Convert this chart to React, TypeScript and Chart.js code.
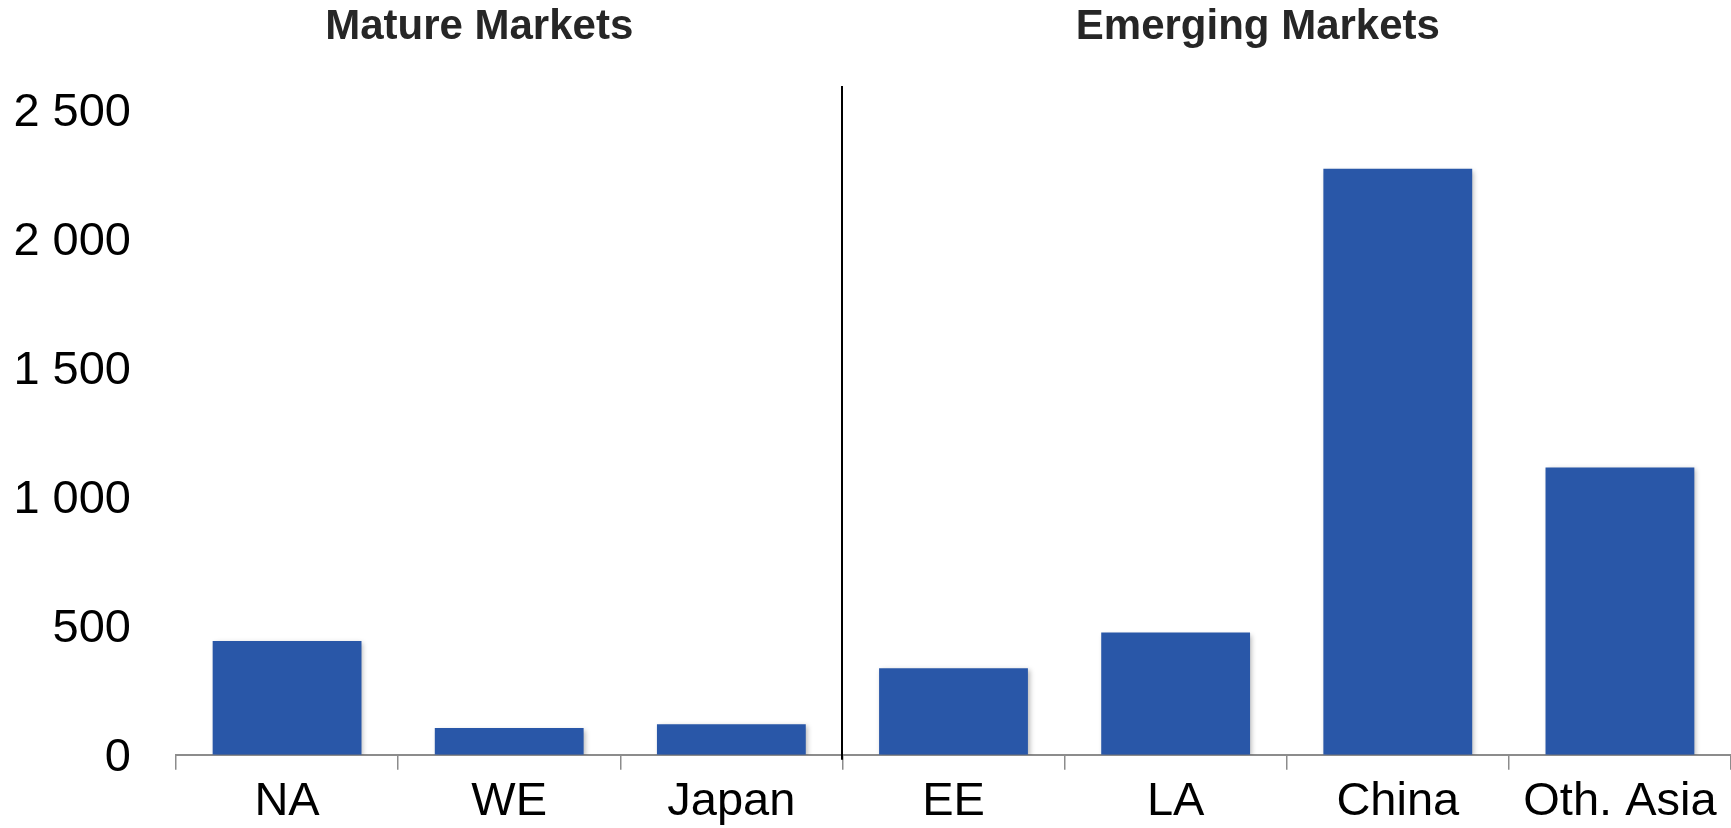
import React, { useEffect, useRef } from "react";
import { Chart, registerables } from "chart.js";

Chart.register(...registerables);

const categories = ["NA", "WE", "Japan", "EE", "LA", "China", "Oth. Asia"];
const values = [441, 104, 118, 336, 474, 2272, 1114];
const yTicks = [0, 500, 1000, 1500, 2000, 2500];
const groupTitles = ["Mature Markets", "Emerging Markets"];
const groupTitleIndex = [0.865, 4.37];
const dividerAfterIndex = 2.5;
const dividerTopValue = 2593;

const FONT = "'Liberation Sans', Arial, Helvetica, sans-serif";

const fmt = (v: number) => String(v).replace(/\B(?=(\d{3})+(?!\d))/g, " ");

export default function App() {
  const ref = useRef<HTMLCanvasElement | null>(null);

  useEffect(() => {
    document.body.style.margin = "0";
    const canvas = ref.current;
    if (!canvas) return;

    const overlay = {
      id: "overlay",
      beforeDatasetsDraw(chart: any) {
        const ctx = chart.ctx;
        ctx.save();
        ctx.shadowColor = "rgba(0,0,0,0.28)";
        ctx.shadowBlur = 5;
        ctx.shadowOffsetX = 2;
        ctx.shadowOffsetY = 2;
      },
      afterDatasetsDraw(chart: any) {
        chart.ctx.restore();
      },
      afterDraw(chart: any) {
        const ctx = chart.ctx;
        const xs = chart.scales.x;
        const ys = chart.scales.y;
        ctx.save();
        const dx = Math.round(xs.getPixelForValue(dividerAfterIndex));
        ctx.strokeStyle = "#000";
        ctx.lineWidth = 2;
        ctx.beginPath();
        ctx.moveTo(dx, ys.getPixelForValue(dividerTopValue));
        ctx.lineTo(dx, chart.chartArea.bottom + 5);
        ctx.stroke();
        ctx.fillStyle = "#262626";
        ctx.font = `bold 42px ${FONT}`;
        ctx.textAlign = "center";
        ctx.textBaseline = "middle";
        groupTitles.forEach((t, i) => {
          ctx.fillText(t, xs.getPixelForValue(groupTitleIndex[i]), 27);
        });
        ctx.restore();
      },
    };

    const chart = new Chart(canvas, {
      type: "bar",
      data: {
        labels: categories,
        datasets: [
          {
            data: values,
            backgroundColor: "#2957A8",
            borderWidth: 0,
            categoryPercentage: 0.67,
            barPercentage: 1,
          },
        ],
      },
      options: {
        animation: false,
        responsive: true,
        maintainAspectRatio: false,
        layout: { padding: { top: 110, left: 0, right: 0, bottom: 0 } },
        plugins: {
          legend: { display: false },
          tooltip: { enabled: false },
          title: { display: false },
        },
        scales: {
          x: {
            offset: true,
            grid: {
              display: true,
              drawOnChartArea: false,
              drawTicks: true,
              tickLength: 15,
              color: "#8c8c8c",
              lineWidth: 1.5,
              offset: true,
            },
            border: { display: true, color: "#8c8c8c", width: 2 },
            ticks: {
              color: "#000",
              font: { family: FONT, size: 47 },
              padding: 4,
              maxRotation: 0,
              autoSkip: false,
            },
            afterFit(scale: any) {
              scale.height = 72;
            },
          },
          y: {
            min: 0,
            max: 2500,
            grid: { display: false, drawTicks: false },
            border: { display: false },
            afterBuildTicks(scale: any) {
              scale.ticks = yTicks.map((v) => ({ value: v }));
            },
            ticks: {
              color: "#000",
              font: { family: FONT, size: 47 },
              padding: 45,
              labelOffset: 3,
              callback: (v: any) => fmt(Number(v)),
            },
            afterFit(scale: any) {
              scale.width = 176;
            },
          },
        },
      },
      plugins: [overlay],
    });

    return () => chart.destroy();
  }, []);

  return (
    <div style={{ position: "absolute", left: 0, top: 0, width: 1731, height: 828, background: "#fff" }}>
      <canvas ref={ref} />
    </div>
  );
}
